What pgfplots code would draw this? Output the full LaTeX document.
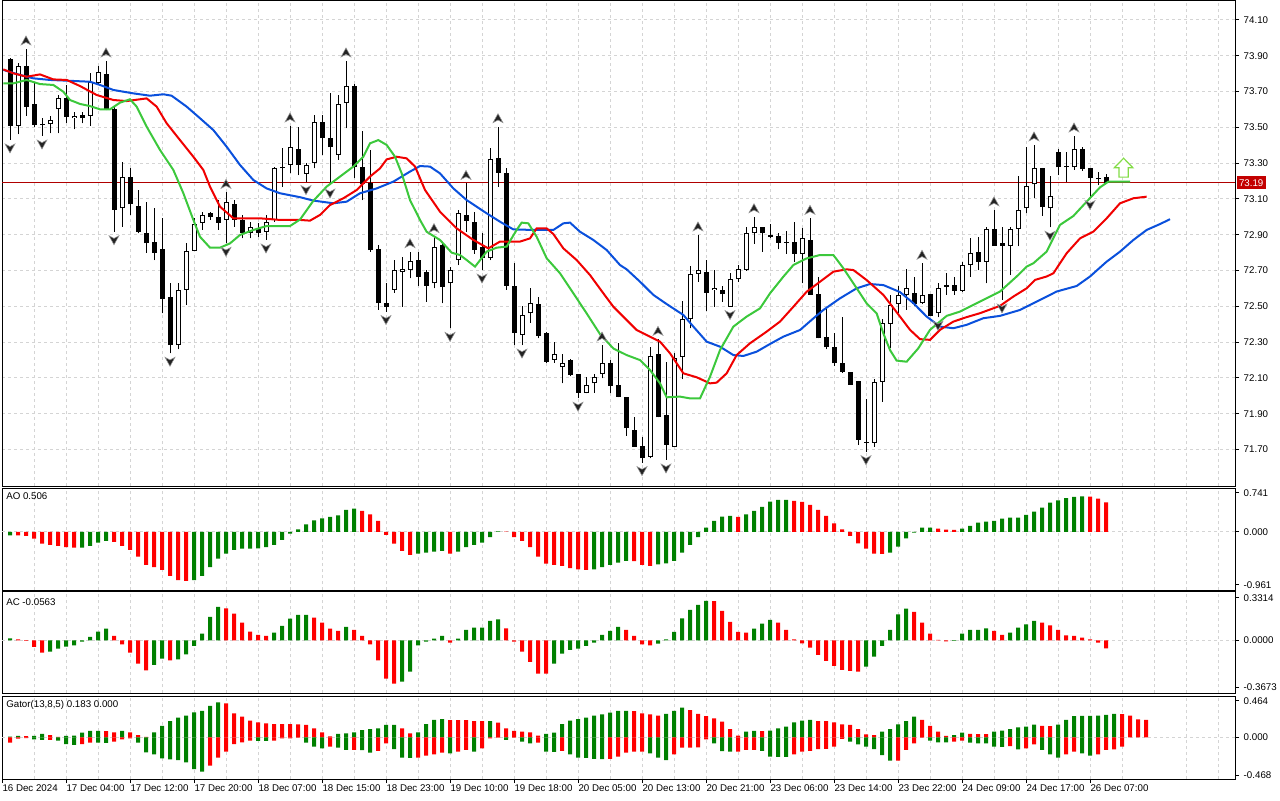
\documentclass[border=0pt]{standalone}
\usepackage{pgfplots}
\pgfplotsset{compat=1.18}
\usepackage{pgfplotstable}
\usepackage{fontspec}
\setmainfont{Liberation Sans}
\newcommand\lbl{\fontsize{7.3}{8.8}\selectfont}
\definecolor{gridc}{RGB}{212,212,212}
\definecolor{hgreen}{RGB}{0,128,0}
\definecolor{hred}{RGB}{255,0,0}
\definecolor{jaw}{RGB}{10,80,220}
\definecolor{teeth}{RGB}{240,0,0}
\definecolor{lips}{RGB}{60,200,60}
\definecolor{pline}{RGB}{176,0,0}
\definecolor{plabel}{RGB}{195,0,0}
\definecolor{sigc}{RGB}{130,220,70}
\pgfdeclareplotmark{fup}{\pgfpathmoveto{\pgfpoint{0pt}{9.75pt}}\pgfpathlineto{\pgfpoint{-3.75pt}{3pt}}\pgfpathlineto{\pgfpoint{0pt}{5pt}}\pgfpathlineto{\pgfpoint{3.75pt}{3pt}}\pgfpathclose\pgfusepathqfillstroke}
\pgfdeclareplotmark{fdn}{\pgfpathmoveto{\pgfpoint{0pt}{-9.75pt}}\pgfpathlineto{\pgfpoint{-3.75pt}{-3pt}}\pgfpathlineto{\pgfpoint{0pt}{-5pt}}\pgfpathlineto{\pgfpoint{3.75pt}{-3pt}}\pgfpathclose\pgfusepathqfillstroke}
\pgfdeclareplotmark{sigup}{\pgfpathmoveto{\pgfpoint{-3.4pt}{0pt}}\pgfpathlineto{\pgfpoint{3.4pt}{0pt}}\pgfpathlineto{\pgfpoint{3.4pt}{7pt}}\pgfpathlineto{\pgfpoint{7pt}{7pt}}\pgfpathlineto{\pgfpoint{0pt}{14.2pt}}\pgfpathlineto{\pgfpoint{-7pt}{7pt}}\pgfpathlineto{\pgfpoint{-3.4pt}{7pt}}\pgfpathclose\pgfusepathqfillstroke}

\pgfplotstableread{
i o h l c
0 73.880 73.886 73.430 73.510
1 73.510 73.858 73.463 73.843
2 73.843 73.938 73.564 73.616
3 73.631 73.746 73.504 73.513
4 73.517 73.551 73.452 73.515
5 73.517 73.564 73.467 73.541
6 73.601 73.681 73.467 73.666
7 73.662 73.737 73.526 73.560
8 73.551 73.588 73.489 73.564
9 73.569 73.588 73.523 73.551
10 73.564 73.802 73.510 73.755
11 73.746 73.843 73.737 73.808
12 73.798 73.871 73.597 73.603
13 73.603 73.612 72.917 73.039
14 73.048 73.309 72.945 73.223
15 73.223 73.271 73.011 73.070
16 73.061 73.150 72.908 72.917
17 72.912 73.085 72.800 72.852
18 72.862 73.048 72.759 72.800
19 72.821 72.992 72.461 72.540
20 72.554 72.629 72.238 72.284
21 72.284 72.629 72.260 72.592
22 72.592 72.852 72.508 72.810
23 72.810 72.992 72.810 72.958
24 72.968 73.029 72.927 73.011
25 73.020 73.029 72.983 72.998
26 72.998 73.094 72.927 72.968
27 72.983 73.137 72.852 73.081
28 73.072 73.094 72.945 72.983
29 72.983 73.011 72.880 72.912
30 72.912 72.973 72.880 72.945
31 72.940 72.964 72.889 72.908
32 72.917 73.011 72.871 72.970
33 72.983 73.281 72.973 73.271
34 73.281 73.383 73.169 73.271
35 73.290 73.508 73.243 73.389
36 73.379 73.500 73.234 73.290
37 73.240 73.299 73.197 73.290
38 73.299 73.569 73.271 73.528
39 73.528 73.569 73.346 73.439
40 73.439 73.690 73.178 73.389
41 73.346 73.681 73.318 73.631
42 73.638 73.871 73.495 73.731
43 73.731 73.740 73.215 73.277
44 73.281 73.480 73.094 73.184
45 73.187 73.374 72.806 72.815
46 72.821 72.843 72.480 72.517
47 72.517 72.629 72.471 72.499
48 72.592 72.759 72.577 72.703
49 72.692 72.778 72.499 72.707
50 72.703 72.806 72.657 72.754
51 72.759 72.806 72.614 72.666
52 72.690 72.703 72.526 72.614
53 72.629 72.890 72.601 72.830
54 72.843 72.852 72.517 72.610
55 72.629 72.718 72.377 72.703
56 72.759 73.039 72.731 73.024
57 73.011 73.187 72.917 72.979
58 72.970 73.029 72.793 72.815
59 72.834 72.908 72.703 72.769
60 72.769 73.383 72.759 73.322
61 73.327 73.504 73.169 73.247
62 73.247 73.271 72.592 72.614
63 72.614 72.741 72.284 72.350
64 72.340 72.502 72.284 72.452
65 72.461 72.601 72.409 72.517
66 72.513 72.554 72.322 72.335
67 72.353 72.359 72.186 72.191
68 72.201 72.299 72.186 72.234
69 72.160 72.234 72.070 72.186
70 72.201 72.204 72.111 72.117
71 72.122 72.122 71.987 72.018
72 72.018 72.108 72.014 72.061
73 72.070 72.122 72.018 72.108
74 72.122 72.284 72.098 72.186
75 72.182 72.201 72.014 72.055
76 72.061 72.294 71.992 71.996
77 71.996 71.996 71.776 71.819
78 71.810 71.880 71.716 71.716
79 71.720 71.772 71.627 71.651
80 71.661 72.275 71.651 72.223
81 72.234 72.316 71.880 71.880
82 71.893 72.191 71.642 71.726
83 71.716 72.238 71.716 72.210
84 72.219 72.532 72.093 72.428
85 72.428 72.726 72.377 72.681
86 72.681 72.899 72.638 72.703
87 72.690 72.759 72.476 72.577
88 72.592 72.703 72.499 72.605
89 72.592 72.614 72.526 72.567
90 72.499 72.688 72.499 72.653
91 72.651 72.731 72.638 72.707
92 72.703 72.945 72.700 72.908
93 72.908 73.001 72.849 72.945
94 72.945 72.945 72.806 72.908
95 72.897 72.960 72.880 72.890
96 72.893 72.912 72.819 72.856
97 72.856 72.921 72.793 72.856
98 72.858 72.973 72.750 72.793
99 72.793 72.936 72.629 72.880
100 72.871 72.992 72.564 72.564
101 72.567 72.666 72.322 72.322
102 72.327 72.489 72.260 72.271
103 72.271 72.350 72.167 72.182
104 72.186 72.443 72.130 72.135
105 72.135 72.135 72.061 72.061
106 72.083 72.083 71.726 71.754
107 71.739 71.981 71.688 71.739
108 71.739 72.093 71.716 72.080
109 72.080 72.428 71.968 72.409
110 72.402 72.564 72.266 72.508
111 72.513 72.614 72.465 72.564
112 72.564 72.707 72.480 72.601
113 72.577 72.662 72.502 72.513
114 72.517 72.741 72.513 72.564
115 72.567 72.567 72.446 72.446
116 72.461 72.629 72.439 72.601
117 72.620 72.688 72.564 72.610
118 72.620 72.666 72.564 72.588
119 72.588 72.750 72.582 72.731
120 72.731 72.880 72.666 72.800
121 72.802 72.889 72.703 72.750
122 72.750 72.942 72.629 72.931
123 72.931 73.039 72.839 72.839
124 72.852 72.942 72.536 72.839
125 72.839 72.942 72.675 72.931
126 72.931 73.229 72.837 73.039
127 73.048 73.392 73.020 73.173
128 73.182 73.402 73.107 73.271
129 73.271 73.271 73.005 73.057
130 73.048 73.229 72.942 73.119
131 73.364 73.377 73.234 73.277
132 73.277 73.364 73.197 73.277
133 73.277 73.452 73.262 73.377
134 73.377 73.389 73.258 73.266
135 73.271 73.271 73.113 73.219
136 73.210 73.253 73.178 73.210
137 73.221 73.240 73.187 73.191
}\ohlc

\pgfplotstableread{
i v c
0 -0.057 0
1 -0.058 1
2 -0.068 1
3 -0.114 1
4 -0.200 1
5 -0.222 1
6 -0.239 1
7 -0.257 1
8 -0.268 1
9 -0.266 0
10 -0.239 0
11 -0.182 0
12 -0.154 0
13 -0.171 1
14 -0.239 1
15 -0.308 1
16 -0.422 1
17 -0.564 1
18 -0.599 1
19 -0.650 1
20 -0.752 1
21 -0.821 1
22 -0.838 1
23 -0.821 0
24 -0.752 0
25 -0.599 0
26 -0.456 0
27 -0.371 0
28 -0.308 0
29 -0.285 0
30 -0.283 0
31 -0.279 0
32 -0.257 0
33 -0.222 0
34 -0.137 0
35 -0.029 0
36 0.046 0
37 0.131 0
38 0.200 0
39 0.234 0
40 0.257 0
41 0.285 0
42 0.376 0
43 0.399 0
44 0.359 1
45 0.302 1
46 0.188 1
47 -0.051 1
48 -0.200 1
49 -0.325 1
50 -0.393 1
51 -0.371 0
52 -0.353 0
53 -0.336 0
54 -0.325 0
55 -0.371 1
56 -0.336 0
57 -0.257 0
58 -0.222 0
59 -0.182 0
60 -0.086 0
61 0.011 0
62 0.006 1
63 -0.086 1
64 -0.154 1
65 -0.257 1
66 -0.422 1
67 -0.542 1
68 -0.564 1
69 -0.581 1
70 -0.616 1
71 -0.638 1
72 -0.650 1
73 -0.638 0
74 -0.599 0
75 -0.564 0
76 -0.524 0
77 -0.496 0
78 -0.498 1
79 -0.564 1
80 -0.581 1
81 -0.553 0
82 -0.536 0
83 -0.496 0
84 -0.353 0
85 -0.222 0
86 -0.086 0
87 0.074 0
88 0.188 0
89 0.262 0
90 0.274 0
91 0.257 1
92 0.302 0
93 0.359 0
94 0.428 0
95 0.519 0
96 0.547 0
97 0.549 0
98 0.530 1
99 0.513 1
100 0.462 1
101 0.376 1
102 0.274 1
103 0.148 1
104 0.046 1
105 -0.068 1
106 -0.194 1
107 -0.285 1
108 -0.371 1
109 -0.373 1
110 -0.353 0
111 -0.251 0
112 -0.108 0
113 -0.011 0
114 0.074 0
115 0.076 0
116 0.057 1
117 0.040 1
118 0.038 1
119 0.057 0
120 0.103 0
121 0.160 0
122 0.177 0
123 0.188 0
124 0.228 0
125 0.245 0
126 0.247 0
127 0.291 0
128 0.348 0
129 0.416 0
130 0.502 0
131 0.542 0
132 0.581 0
133 0.599 0
134 0.610 0
135 0.604 1
136 0.570 1
137 0.506 1
}\aotab

\pgfplotstableread{
i v c
0 0.0141 0
1 0.0071 1
2 -0.0047 1
3 -0.0471 1
4 -0.0871 1
5 -0.0800 0
6 -0.0588 0
7 -0.0447 0
8 -0.0353 0
9 -0.0094 0
10 0.0235 0
11 0.0612 0
12 0.0824 0
13 0.0306 1
14 -0.0282 1
15 -0.0871 1
16 -0.1647 1
17 -0.2118 1
18 -0.1741 0
19 -0.1294 0
20 -0.1412 1
21 -0.1341 0
22 -0.0988 0
23 -0.0400 0
24 0.0471 0
25 0.1647 0
26 0.2353 0
27 0.2259 1
28 0.1882 1
29 0.1247 1
30 0.0612 1
31 0.0376 1
32 0.0306 1
33 0.0541 0
34 0.1012 0
35 0.1529 0
36 0.1788 0
37 0.1790 0
38 0.1600 1
39 0.1247 1
40 0.0824 1
41 0.0659 1
42 0.0941 0
43 0.0729 1
44 0.0306 1
45 -0.0282 1
46 -0.1412 1
47 -0.2706 1
48 -0.3059 1
49 -0.2918 0
50 -0.2212 0
51 -0.0353 0
52 -0.0094 0
53 0.0118 0
54 0.0306 0
55 -0.0165 1
56 0.0118 0
57 0.0729 0
58 0.0894 0
59 0.0896 0
60 0.1365 0
61 0.1482 0
62 0.0847 1
63 -0.0094 1
64 -0.0800 1
65 -0.1529 1
66 -0.2353 1
67 -0.2355 1
68 -0.1647 0
69 -0.0941 0
70 -0.0682 0
71 -0.0588 0
72 -0.0400 0
73 -0.0165 0
74 0.0376 0
75 0.0659 0
76 0.0941 0
77 0.0729 1
78 0.0306 1
79 -0.0282 1
80 -0.0353 1
81 -0.0235 0
82 0.0071 0
83 0.0588 0
84 0.1553 0
85 0.2141 0
86 0.2494 0
87 0.2776 0
88 0.2774 1
89 0.2071 1
90 0.1294 1
91 0.0588 1
92 0.0541 1
93 0.0824 0
94 0.1176 0
95 0.1435 0
96 0.1247 1
97 0.0729 1
98 0.0071 1
99 -0.0212 1
100 -0.0518 1
101 -0.1035 1
102 -0.1459 1
103 -0.1812 1
104 -0.2094 1
105 -0.2165 1
106 -0.2212 1
107 -0.1859 0
108 -0.1153 0
109 -0.0400 0
110 0.0729 0
111 0.1835 0
112 0.2235 0
113 0.2000 1
114 0.1247 1
115 0.0471 1
116 0.0024 1
117 -0.0071 1
118 -0.0040 0
119 0.0471 0
120 0.0729 0
121 0.0731 0
122 0.0847 0
123 0.0659 1
124 0.0376 1
125 0.0541 0
126 0.0894 0
127 0.1129 0
128 0.1365 0
129 0.1247 1
130 0.1059 1
131 0.0729 1
132 0.0353 1
133 0.0306 1
134 0.0188 1
135 0.0071 1
136 -0.0165 1
137 -0.0563 1
}\actab

\pgfplotstableread{
i u uc l lc
0 0.008 0 -0.062 1
1 0.016 0 -0.016 1
2 0.015 1 -0.008 1
3 0.016 0 -0.023 0
4 0.039 0 -0.031 0
5 0.027 1 -0.030 1
6 0.004 1 -0.039 0
7 0.016 0 -0.078 0
8 0.019 0 -0.089 0
9 0.054 0 -0.078 1
10 0.074 0 -0.062 1
11 0.075 0 -0.063 0
12 0.073 1 -0.064 0
13 0.058 1 -0.050 1
14 0.074 0 -0.023 1
15 0.058 1 -0.012 1
16 0.027 1 -0.062 0
17 0.004 1 -0.175 0
18 0.058 0 -0.198 0
19 0.132 0 -0.244 0
20 0.190 0 -0.256 0
21 0.229 0 -0.264 0
22 0.252 0 -0.291 0
23 0.291 0 -0.369 0
24 0.307 0 -0.400 0
25 0.365 0 -0.330 1
26 0.407 0 -0.237 1
27 0.396 1 -0.167 1
28 0.279 1 -0.078 1
29 0.241 1 -0.058 1
30 0.194 1 -0.039 1
31 0.175 1 -0.040 0
32 0.163 1 -0.041 0
33 0.155 1 -0.039 1
34 0.154 1 -0.012 1
35 0.153 1 -0.011 1
36 0.152 1 -0.004 1
37 0.144 1 -0.062 0
38 0.105 1 -0.109 0
39 0.058 1 -0.128 0
40 0.012 1 -0.109 1
41 0.039 0 -0.120 0
42 0.047 0 -0.147 0
43 0.058 0 -0.146 1
44 0.085 0 -0.148 0
45 0.097 0 -0.178 0
46 0.105 0 -0.159 1
47 0.144 0 -0.070 1
48 0.145 0 -0.136 0
49 0.105 1 -0.237 0
50 0.047 1 -0.238 0
51 0.058 0 -0.236 1
52 0.155 0 -0.213 1
53 0.202 0 -0.198 1
54 0.213 0 -0.178 1
55 0.201 1 -0.186 0
56 0.200 1 -0.167 1
57 0.199 1 -0.147 1
58 0.190 1 -0.167 0
59 0.189 1 -0.128 1
60 0.190 0 -0.012 1
61 0.171 1 -0.004 1
62 0.105 1 -0.031 0
63 0.074 1 -0.004 1
64 0.065 1 -0.050 0
65 0.058 1 -0.070 0
66 0.019 1 -0.062 1
67 0.039 0 -0.167 0
68 0.054 0 -0.168 0
69 0.155 0 -0.159 1
70 0.194 0 -0.198 0
71 0.213 0 -0.237 0
72 0.229 0 -0.238 0
73 0.252 0 -0.252 0
74 0.268 0 -0.253 0
75 0.287 0 -0.251 1
76 0.307 0 -0.225 1
77 0.308 0 -0.178 1
78 0.306 1 -0.167 1
79 0.279 1 -0.166 1
80 0.268 1 -0.186 0
81 0.252 1 -0.237 0
82 0.272 0 -0.264 0
83 0.307 0 -0.198 1
84 0.345 0 -0.120 1
85 0.318 1 -0.119 1
86 0.272 1 -0.118 1
87 0.248 1 -0.023 1
88 0.221 1 -0.070 0
89 0.182 1 -0.160 0
90 0.097 1 -0.167 0
91 0.019 1 -0.166 1
92 0.066 0 -0.147 1
93 0.074 0 -0.146 1
94 0.073 1 -0.159 0
95 0.078 0 -0.225 0
96 0.105 0 -0.226 0
97 0.124 0 -0.228 0
98 0.175 0 -0.198 1
99 0.194 0 -0.167 1
100 0.202 0 -0.159 1
101 0.190 1 -0.136 1
102 0.189 1 -0.135 1
103 0.175 1 -0.109 1
104 0.151 1 -0.019 1
105 0.144 1 -0.050 0
106 0.097 1 -0.081 0
107 0.035 1 -0.109 0
108 0.027 1 -0.136 0
109 0.066 0 -0.206 0
110 0.097 0 -0.272 0
111 0.151 0 -0.271 1
112 0.190 0 -0.147 1
113 0.241 0 -0.070 1
114 0.202 1 -0.004 1
115 0.132 1 -0.039 0
116 0.066 1 -0.058 0
117 0.016 1 -0.059 0
118 0.027 0 -0.050 1
119 0.054 0 -0.039 1
120 0.039 1 -0.062 0
121 0.038 1 -0.070 0
122 0.037 1 -0.071 0
123 0.066 0 -0.109 0
124 0.078 0 -0.110 0
125 0.097 0 -0.101 1
126 0.116 0 -0.140 0
127 0.124 0 -0.128 1
128 0.147 0 -0.081 1
129 0.132 1 -0.147 0
130 0.131 1 -0.198 0
131 0.147 0 -0.237 0
132 0.202 0 -0.198 1
133 0.248 0 -0.167 1
134 0.249 0 -0.186 0
135 0.250 0 -0.213 0
136 0.252 0 -0.198 1
137 0.260 0 -0.147 1
138 0.272 0 -0.140 1
139 0.270 1 -0.109 1
140 0.252 1 nan 2
141 0.210 1 nan 2
142 0.202 1 nan 2
}\gatortab

\pgfplotsset{
  mtbase/.style={anchor=south west, scale only axis, width=924.75pt,
    xmin=-1, xmax=153.125, axis line style={line width=0.75pt, black},
    clip mode=individual,
    xtick={-1,3,...,151}, xticklabels={}, xtick style={draw=none},
    ytick pos=right, yticklabel pos=right, tick align=outside,
    major tick length=3pt, minor tick length=0pt,
    ytick style={line width=0.75pt, black},
    tick label style={font=\lbl, black},
    grid style={line width=0.75pt, color=gridc, dash pattern=on 2.25pt off 2.25pt},
    xmajorgrids},
  hbar/.style={ybar, bar width=3pt, bar shift=0pt, draw=none, fill=#1},
  bodyerr/.style={only marks, mark=*, mark size=0pt, mark options={draw=none, fill=none},
    error bars/.cd, y dir=plus, y explicit, error mark=none, error bar style={#1}}
}
\tikzset{ttl/.style={anchor=west, font=\lbl, inner sep=0pt}}

\begin{document}
\begin{tikzpicture}
\useasboundingbox (0,0) rectangle (960pt,600pt);

% ---------------- main price panel ----------------
\begin{axis}[mtbase, at={(1.5pt,235.5pt)}, height=363.75pt,
  ymin=71.4966, ymax=74.2061,
  ytick={71.7,71.9,72.1,72.3,72.5,72.7,72.9,73.1,73.3,73.5,73.7,73.9,74.1},
  yticklabels={71.70,71.90,72.10,72.30,72.50,72.70,72.90,73.10,73.30,73.50,73.70,73.90,74.10},
  ymajorgrids]
\addplot[pline, line width=0.75pt] coordinates {(-1,73.19) (153.125,73.19)};
% wicks
\addplot[bodyerr={black, line width=0.75pt}] table[x=i, y=l, y error expr=\thisrow{h}-\thisrow{l}] {\ohlc};
% bodies (outline / black)
\addplot[bodyerr={black, line width=3.75pt}] table[x=i, y expr={min(\thisrow{o},\thisrow{c})}, y error expr={max(abs(\thisrow{c}-\thisrow{o}),0.0056)}] {\ohlc};
% bullish body interior
\addplot[bodyerr={white, line width=2.25pt}] table[x=i, y expr={\thisrow{o}+0.0056}, y error expr={(\thisrow{c}>\thisrow{o})*max(\thisrow{c}-\thisrow{o}-0.0112,0)}] {\ohlc};
% Alligator jaw
\addplot[jaw, line width=1.5pt] coordinates {
(-0.83,73.821) (1.25,73.793) (2.92,73.774) (5.0,73.765) (7.08,73.761) (10.0,73.755) (11.25,73.737) (12.92,73.709) (15.42,73.690) (17.5,73.677) (19.17,73.685) (20.2,73.677) (22.08,73.616) (23.75,73.551) (25.42,73.485) (27.08,73.392) (28.75,73.290) (30.42,73.206) (32.08,73.159) (33.75,73.132) (36.25,73.110) (37.92,73.091) (40.42,73.076) (42.08,73.085) (43.75,73.132) (45.83,73.159) (47.92,73.197) (50.0,73.253) (51.25,73.284) (52.5,73.281) (53.75,73.243) (55.42,73.159) (57.08,73.094) (59.58,73.020) (61.25,72.973) (62.92,72.930) (65.42,72.927) (67.92,72.927) (69.17,72.964) (70.0,72.968) (71.25,72.917) (72.92,72.871) (74.58,72.815) (76.25,72.731) (77.08,72.707) (78.75,72.638) (80.42,72.564) (82.08,72.513) (84.17,72.452) (85.42,72.387) (87.08,72.303) (88.75,72.275) (90.42,72.228) (91.67,72.223) (93.33,72.247) (95.0,72.290) (96.67,72.331) (98.75,72.368) (100.42,72.433) (101.67,72.480) (103.75,72.545) (105.83,72.601) (107.5,72.625) (109.17,72.619) (111.25,72.580) (112.92,72.518) (114.58,72.443) (116.25,72.387) (117.92,72.378) (119.58,72.397) (121.67,72.434) (123.75,72.447) (126.25,72.480) (128.75,72.536) (130.83,72.583) (133.33,72.614) (135.0,72.667) (137.08,72.750) (138.75,72.806) (140.42,72.871) (142.08,72.927) (143.75,72.960) (145.0,72.987)};
% Alligator teeth
\addplot[teeth, line width=1.5pt] coordinates {
(-0.83,73.824) (0.42,73.802) (2.08,73.783) (3.75,73.796) (5.42,73.768) (7.08,73.765) (8.75,73.731) (10.83,73.681) (12.92,73.653) (14.58,73.647) (17.08,73.662) (18.33,73.616) (19.58,73.523) (21.25,73.429) (22.92,73.336) (24.17,73.262) (25.0,73.169) (26.25,73.057) (27.92,72.992) (31.25,72.992) (33.75,72.983) (36.25,72.983) (37.5,72.979) (38.75,73.011) (40.0,73.066) (41.67,73.104) (43.33,73.150) (45.0,73.225) (46.25,73.271) (47.08,73.321) (48.33,73.336) (49.58,73.327) (50.63,73.281) (51.88,73.150) (53.75,73.029) (55.83,72.936) (57.92,72.871) (59.79,72.824) (61.25,72.862) (63.75,72.862) (65.0,72.880) (65.83,72.936) (67.08,72.936) (67.92,72.904) (69.17,72.824) (70.83,72.759) (72.5,72.675) (74.17,72.573) (75.42,72.498) (77.08,72.424) (78.33,72.368) (80.0,72.331) (81.25,72.303) (82.5,72.238) (84.17,72.126) (85.83,72.104) (87.5,72.070) (88.33,72.074) (89.58,72.126) (90.83,72.228) (92.5,72.294) (94.58,72.359) (96.25,72.415) (97.92,72.498) (99.58,72.582) (101.25,72.638) (102.92,72.694) (104.58,72.707) (105.42,72.703) (107.08,72.647) (109.17,72.564) (111.25,72.443) (112.5,72.369) (113.75,72.317) (115.0,72.313) (116.25,72.369) (117.92,72.415) (119.58,72.440) (121.25,72.462) (123.75,72.503) (125.42,72.555) (127.08,72.601) (128.13,72.648) (129.58,72.667) (130.42,72.685) (132.08,72.797) (133.75,72.880) (135.42,72.918) (137.08,72.992) (138.75,73.076) (140.42,73.104) (142.08,73.113)};
% Alligator lips
\addplot[lips, line width=1.5pt] coordinates {
(-0.83,73.746) (0.42,73.746) (2.08,73.765) (3.75,73.742) (5.42,73.737) (6.67,73.699) (7.5,73.653) (8.75,73.631) (10.0,73.619) (11.25,73.601) (12.5,73.601) (13.75,73.638) (15.0,73.657) (15.83,73.616) (17.08,73.504) (18.75,73.374) (20.42,73.262) (21.67,73.132) (22.92,72.983) (23.75,72.889) (25.0,72.828) (26.25,72.828) (27.5,72.852) (28.75,72.899) (30.42,72.927) (32.08,72.949) (35.0,72.949) (36.25,72.985) (37.92,73.090) (39.58,73.169) (41.25,73.225) (42.92,73.281) (44.17,73.336) (45.0,73.411) (46.04,73.429) (47.08,73.402) (48.13,73.336) (48.96,73.243) (50.0,73.094) (51.25,72.983) (52.08,72.917) (53.75,72.871) (55.21,72.800) (56.25,72.787) (57.08,72.759) (58.13,72.722) (59.58,72.806) (60.83,72.828) (62.08,72.834) (63.33,72.927) (63.96,72.968) (64.79,72.964) (65.83,72.889) (67.08,72.769) (68.75,72.685) (70.42,72.573) (72.08,72.461) (73.75,72.345) (75.42,72.265) (77.08,72.228) (78.75,72.200) (80.0,72.145) (81.25,72.070) (82.08,71.992) (83.75,71.996) (85.0,71.986) (86.25,71.986) (87.5,72.107) (88.75,72.256) (90.42,72.387) (92.08,72.443) (93.75,72.489) (95.0,72.573) (96.67,72.666) (97.92,72.731) (99.58,72.768) (101.25,72.787) (102.92,72.787) (104.17,72.713) (105.42,72.629) (107.08,72.517) (108.33,72.461) (109.17,72.349) (110.0,72.256) (110.83,72.197) (112.08,72.191) (113.54,72.266) (115.0,72.369) (117.08,72.447) (118.75,72.471) (121.25,72.527) (123.75,72.583) (125.83,72.667) (127.08,72.722) (127.92,72.741) (129.58,72.806) (131.25,72.955) (132.92,73.005) (134.58,73.085) (136.25,73.165) (137.29,73.197) (140.0,73.197)};
% fractals
\addplot[only marks, mark=fup, mark options={fill={rgb,255:red,35;green,35;blue,35}, draw={rgb,255:red,150;green,150;blue,150}, line width=0.4pt}] coordinates {
(2,73.938) (12,73.871) (27,73.137) (35,73.508) (42,73.871) (50,72.806) (53,72.890) (57,73.187) (61,73.504) (74,72.284) (81,72.316) (86,72.899) (93,73.001) (100,72.992) (114,72.741) (123,73.039) (128,73.402) (133,73.452)};
\addplot[only marks, mark=fdn, mark options={fill={rgb,255:red,35;green,35;blue,35}, draw={rgb,255:red,150;green,150;blue,150}, line width=0.4pt}] coordinates {
(0,73.430) (4,73.452) (13,72.917) (20,72.238) (27,72.852) (32,72.871) (37,73.197) (40,73.178) (47,72.471) (55,72.377) (59,72.703) (64,72.284) (71,71.987) (79,71.627) (82,71.642) (90,72.499) (107,71.688) (116,72.439) (124,72.536) (130,72.942) (135,73.113)};
% signal arrow
\addplot[only marks, mark=sigup, mark options={fill=white, draw=sigc, line width=0.9pt}] coordinates {(139.2,73.222)};
\node[anchor=west, fill=plabel, text=white, font=\lbl, inner xsep=1.6pt, inner ysep=0pt, minimum height=9.75pt, xshift=1.2pt] at (axis cs:153.125,73.19) {73.19};
\end{axis}

% ---------------- AO ----------------
\begin{axis}[mtbase, at={(1.5pt,157.5pt)}, height=76.5pt,
  ymin=-0.992, ymax=0.752,
  ytick={0.672,-0.906}, yticklabels={0.741,-0.961},
  extra y ticks={0}, extra y tick labels={0.000},
  extra y tick style={ymajorgrids=true}]
\addplot[hbar=hgreen, restrict expr to domain={\thisrow{c}}{-0.5:0.5}] table[x=i, y=v] {\aotab};
\addplot[hbar=hred, restrict expr to domain={\thisrow{c}}{0.5:1.5}] table[x=i, y=v] {\aotab};
\node[ttl] at (axis description cs:0,1) [xshift=3pt, yshift=-6.4pt] {AO 0.506};
\end{axis}

% ---------------- AC ----------------
\begin{axis}[mtbase, at={(1.5pt,80.25pt)}, height=75.75pt,
  ymin=-0.372, ymax=0.341,
  ytick={0.301,-0.332}, yticklabels={0.3314,-0.3673},
  extra y ticks={0}, extra y tick labels={0.0000},
  extra y tick style={ymajorgrids=true}]
\addplot[hbar=hgreen, restrict expr to domain={\thisrow{c}}{-0.5:0.5}] table[x=i, y=v] {\actab};
\addplot[hbar=hred, restrict expr to domain={\thisrow{c}}{0.5:1.5}] table[x=i, y=v] {\actab};
\node[ttl] at (axis description cs:0,1) [xshift=3pt, yshift=-7.3pt] {AC -0.0563};
\end{axis}

% ---------------- Gator ----------------
\begin{axis}[mtbase, at={(1.5pt,15.75pt)}, height=62.25pt,
  ymin=-0.485, ymax=0.481,
  ytick={0.426,-0.439}, yticklabels={0.464,-0.468},
  extra y ticks={0}, extra y tick labels={0.000},
  extra y tick style={ymajorgrids=true},
  xtick={-1,7,...,135},
  xticklabels={16 Dec 2024,17 Dec 04:00,17 Dec 12:00,17 Dec 20:00,18 Dec 07:00,18 Dec 15:00,18 Dec 23:00,19 Dec 10:00,19 Dec 18:00,20 Dec 05:00,20 Dec 13:00,20 Dec 21:00,23 Dec 06:00,23 Dec 14:00,23 Dec 22:00,24 Dec 09:00,24 Dec 17:00,26 Dec 07:00},
  minor xtick={3,11,...,147,151},
  xminorgrids,
  xtick pos=bottom,
  xtick style={draw=black, line width=0.75pt},
  xticklabel style={anchor=north west, inner sep=0pt, xshift=0.2pt, yshift=-1.2pt}]
\addplot[hbar=hgreen, restrict expr to domain={\thisrow{uc}}{-0.5:0.5}] table[x=i, y=u] {\gatortab};
\addplot[hbar=hred, restrict expr to domain={\thisrow{uc}}{0.5:1.5}] table[x=i, y=u] {\gatortab};
\addplot[hbar=hgreen, restrict expr to domain={\thisrow{lc}}{-0.5:0.5}] table[x=i, y=l] {\gatortab};
\addplot[hbar=hred, restrict expr to domain={\thisrow{lc}}{0.5:1.5}] table[x=i, y=l] {\gatortab};
\node[ttl] at (axis description cs:0,1) [xshift=3pt, yshift=-6.75pt] {Gator(13,8,5) 0.183 0.000};
\end{axis}
\end{tikzpicture}
\end{document}
